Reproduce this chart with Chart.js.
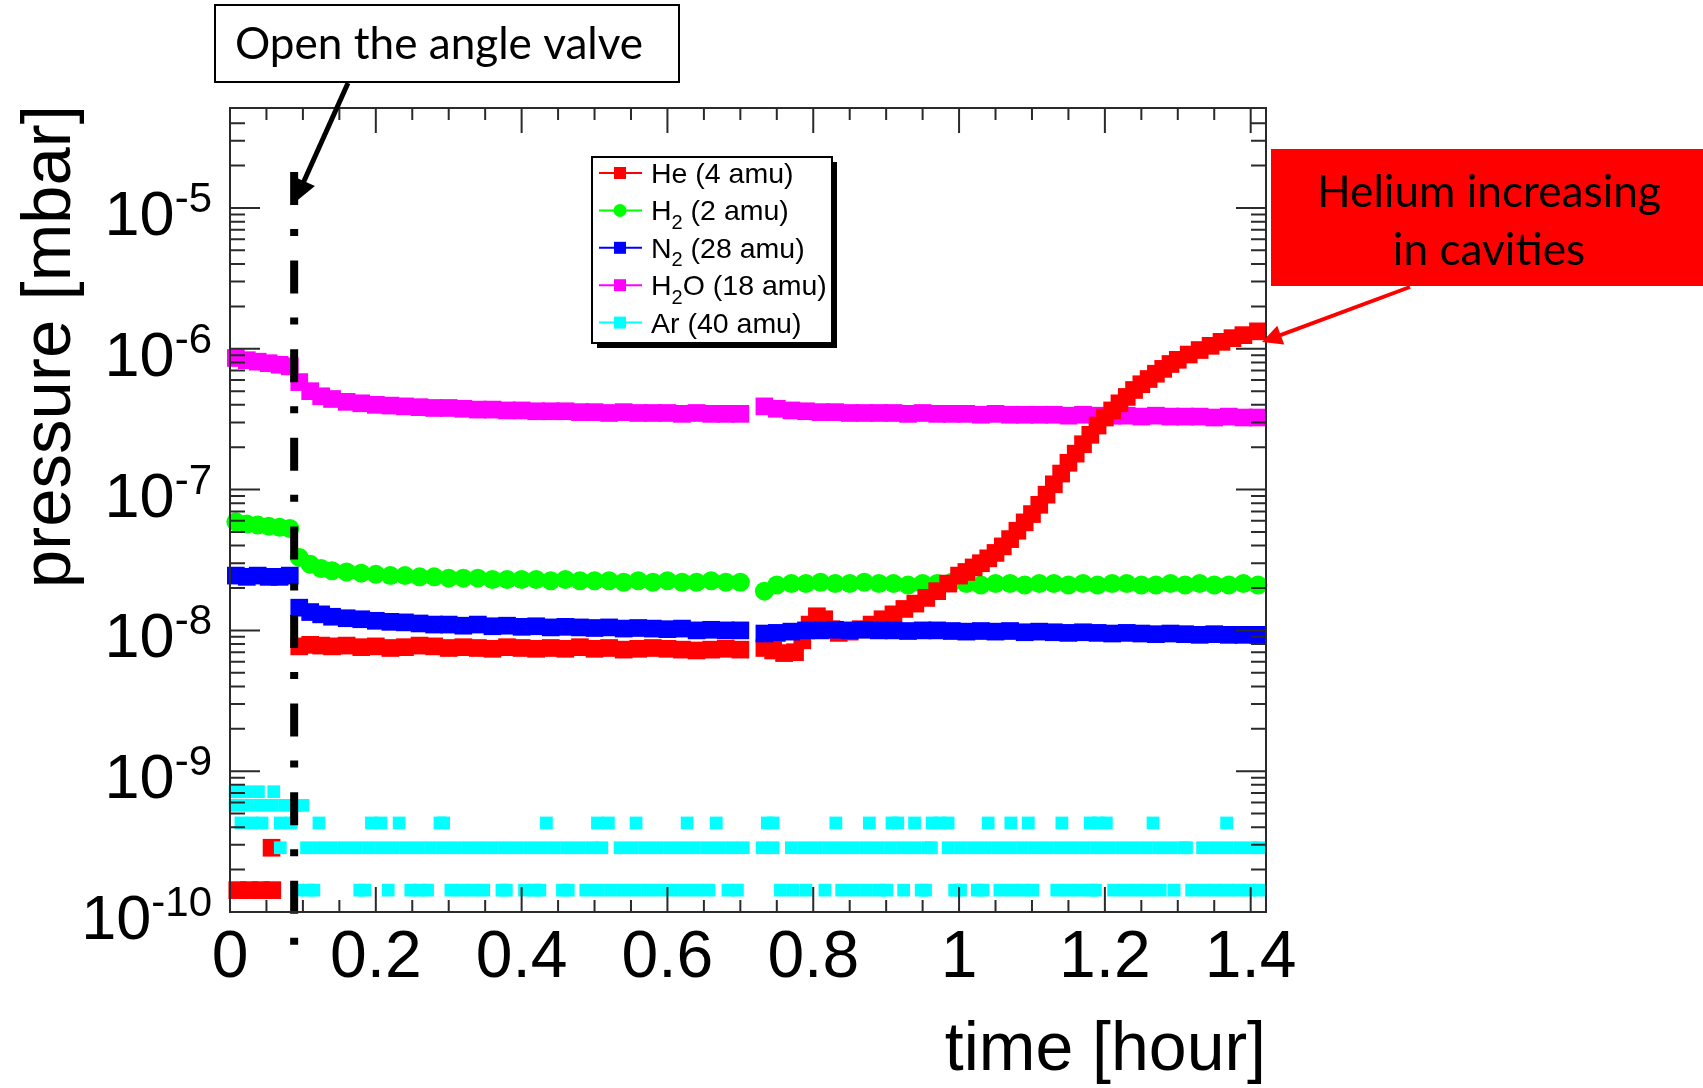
<!DOCTYPE html>
<html lang="en">
<head>
<meta charset="UTF-8">
<title>RGA pressure vs time</title>
<script src="https://cdn.jsdelivr.net/npm/chart.js"></script>
<style>
  body { margin: 0; background: #fff; }
  #wrap { width: 1703px; height: 1088px; }
</style>
</head>
<body>
<div id="wrap"><canvas id="rgaChart" width="1703" height="1088"></canvas></div>
<script>
// time axis in hours, shared by H2O, H2 and N2
const time = [0.008, 0.023, 0.038, 0.053, 0.068, 0.082,
  0.095, 0.11, 0.125,
  0.14, 0.16, 0.18, 0.20, 0.22, 0.24, 0.26, 0.28, 0.30, 0.32, 0.34, 0.36, 0.38, 0.40, 0.42,
  0.44, 0.46, 0.48, 0.50, 0.52, 0.54, 0.56, 0.58, 0.60, 0.62, 0.64, 0.66, 0.68, 0.70,
  0.733, 0.75, 0.77, 0.79, 0.81, 0.83, 0.85, 0.87, 0.89, 0.91, 0.93, 0.95, 0.97, 0.99,
  1.01, 1.03, 1.05, 1.07, 1.09, 1.11, 1.13, 1.15, 1.17, 1.19, 1.21, 1.23, 1.25, 1.27,
  1.29, 1.31, 1.33, 1.35, 1.37, 1.39, 1.41];

// pressures in mbar
const h2oValue = [8.6e-7, 8.3e-7, 8.1e-7, 7.9e-7, 7.7e-7, 7.5e-7,
  5.8e-7, 5.0e-7, 4.6e-7,
  4.4e-7, 4.2e-7, 4.1e-7, 4.0e-7, 3.95e-7, 3.9e-7, 3.85e-7, 3.8e-7, 3.8e-7, 3.75e-7, 3.7e-7,
  3.7e-7, 3.65e-7, 3.65e-7, 3.6e-7, 3.6e-7, 3.6e-7, 3.55e-7, 3.55e-7, 3.5e-7, 3.55e-7,
  3.5e-7, 3.5e-7, 3.5e-7, 3.45e-7, 3.5e-7, 3.45e-7, 3.45e-7, 3.45e-7,
  3.9e-7, 3.75e-7, 3.65e-7, 3.6e-7, 3.55e-7, 3.55e-7, 3.5e-7, 3.5e-7, 3.5e-7, 3.5e-7,
  3.45e-7, 3.5e-7, 3.45e-7, 3.45e-7, 3.45e-7, 3.4e-7, 3.45e-7, 3.4e-7, 3.4e-7, 3.4e-7,
  3.4e-7, 3.35e-7, 3.4e-7, 3.35e-7, 3.35e-7, 3.35e-7, 3.3e-7, 3.35e-7, 3.3e-7, 3.3e-7,
  3.3e-7, 3.25e-7, 3.3e-7, 3.25e-7, 3.25e-7];

const h2Value = [5.9e-8, 5.7e-8, 5.6e-8, 5.5e-8, 5.4e-8, 5.3e-8,
  3.3e-8, 2.95e-8, 2.75e-8,
  2.65e-8, 2.6e-8, 2.55e-8, 2.5e-8, 2.45e-8, 2.45e-8, 2.4e-8, 2.4e-8, 2.35e-8, 2.35e-8,
  2.35e-8, 2.3e-8, 2.3e-8, 2.3e-8, 2.3e-8, 2.25e-8, 2.3e-8, 2.25e-8, 2.25e-8, 2.25e-8,
  2.2e-8, 2.25e-8, 2.2e-8, 2.25e-8, 2.2e-8, 2.2e-8, 2.25e-8, 2.2e-8, 2.2e-8,
  1.9e-8, 2.1e-8, 2.15e-8, 2.15e-8, 2.2e-8, 2.15e-8, 2.15e-8, 2.2e-8, 2.15e-8, 2.15e-8,
  2.1e-8, 2.15e-8, 2.15e-8, 2.2e-8, 2.15e-8, 2.1e-8, 2.15e-8, 2.15e-8, 2.1e-8, 2.15e-8,
  2.15e-8, 2.1e-8, 2.15e-8, 2.1e-8, 2.15e-8, 2.15e-8, 2.1e-8, 2.1e-8, 2.15e-8, 2.1e-8,
  2.15e-8, 2.1e-8, 2.1e-8, 2.15e-8, 2.1e-8];

const n2Value = [2.45e-8, 2.4e-8, 2.45e-8, 2.4e-8, 2.4e-8, 2.45e-8,
  1.45e-8, 1.35e-8, 1.3e-8,
  1.25e-8, 1.22e-8, 1.2e-8, 1.17e-8, 1.15e-8, 1.14e-8, 1.12e-8, 1.1e-8, 1.1e-8, 1.08e-8,
  1.1e-8, 1.07e-8, 1.08e-8, 1.06e-8, 1.07e-8, 1.05e-8, 1.06e-8, 1.05e-8, 1.04e-8, 1.05e-8,
  1.03e-8, 1.04e-8, 1.03e-8, 1.02e-8, 1.03e-8, 1.0e-8, 1.01e-8, 1.0e-8, 1.0e-8,
  9.5e-9, 9.6e-9, 9.8e-9, 1.0e-8, 1.0e-8, 1.01e-8, 1.0e-8, 1.01e-8, 1.0e-8, 1.0e-8,
  9.9e-9, 1.0e-8, 1.0e-8, 9.9e-9, 9.8e-9, 9.9e-9, 9.8e-9, 9.9e-9, 9.7e-9, 9.8e-9,
  9.7e-9, 9.6e-9, 9.7e-9, 9.6e-9, 9.5e-9, 9.6e-9, 9.5e-9, 9.4e-9, 9.5e-9, 9.4e-9,
  9.3e-9, 9.4e-9, 9.3e-9, 9.3e-9, 9.3e-9];

const heTime = [0.01, 0.026, 0.042, 0.058, 0.057,
  0.095, 0.11, 0.125,
  0.14, 0.16, 0.18, 0.20, 0.22, 0.24, 0.26, 0.28, 0.30, 0.32, 0.34, 0.36, 0.38, 0.40, 0.42,
  0.44, 0.46, 0.48, 0.50, 0.52, 0.54, 0.56, 0.58, 0.60, 0.62, 0.64, 0.66, 0.68, 0.70,
  0.733, 0.745, 0.76, 0.775, 0.785, 0.795, 0.805, 0.815, 0.825, 0.835, 0.85, 0.865, 0.88,
  0.895, 0.91, 0.925, 0.94, 0.955, 0.97, 0.985,
  1.00, 1.01, 1.02, 1.03, 1.04, 1.05, 1.06, 1.07, 1.08, 1.09, 1.10, 1.11, 1.12, 1.13, 1.14,
  1.15, 1.16, 1.17, 1.18, 1.19, 1.20, 1.21, 1.22, 1.23, 1.24, 1.25, 1.26, 1.27, 1.28, 1.29,
  1.30, 1.315, 1.33, 1.345, 1.36, 1.375, 1.39, 1.41];

const heValue = [1.43e-10, 1.43e-10, 1.43e-10, 1.43e-10, 2.86e-10,
  7.7e-9, 7.9e-9, 7.8e-9,
  7.7e-9, 7.8e-9, 7.6e-9, 7.7e-9, 7.5e-9, 7.6e-9, 7.8e-9, 7.7e-9, 7.5e-9, 7.6e-9, 7.5e-9,
  7.4e-9, 7.6e-9, 7.5e-9, 7.4e-9, 7.5e-9, 7.4e-9, 7.6e-9, 7.4e-9, 7.5e-9, 7.3e-9, 7.4e-9,
  7.5e-9, 7.4e-9, 7.3e-9, 7.2e-9, 7.3e-9, 7.4e-9, 7.3e-9,
  7.5e-9, 7.2e-9, 6.9e-9, 7.0e-9, 8.5e-9, 1.1e-8, 1.26e-8, 1.2e-8, 1.02e-8, 9.6e-9, 9.8e-9,
  1.02e-8, 1.1e-8, 1.2e-8, 1.3e-8, 1.42e-8, 1.55e-8, 1.7e-8, 1.9e-8, 2.15e-8,
  2.45e-8, 2.6e-8, 2.8e-8, 3.0e-8, 3.25e-8, 3.55e-8, 3.95e-8, 4.45e-8, 5.1e-8, 5.85e-8,
  6.7e-8, 7.8e-8, 9.2e-8, 1.09e-7, 1.3e-7, 1.55e-7, 1.8e-7, 2.1e-7, 2.45e-7, 2.85e-7,
  3.25e-7, 3.65e-7, 4.1e-7, 4.55e-7, 5.1e-7, 5.6e-7, 6.1e-7, 6.65e-7, 7.2e-7, 7.8e-7,
  8.35e-7, 9.1e-7, 9.8e-7, 1.05e-6, 1.12e-6, 1.19e-6, 1.25e-6, 1.33e-6];

// argon sits on the RGA's digitisation steps, so it is kept as times per level
const arLevel = [1.43e-10, 2.86e-10, 4.29e-10, 5.72e-10, 7.15e-10];
const arTimeL1 = [0.092, 0.107, 0.115, 0.178, 0.185, 0.217, 0.248, 0.26, 0.271, 0.303, 0.318,
  0.333, 0.348, 0.373, 0.379, 0.404, 0.418, 0.425, 0.456, 0.464, 0.488, 0.505, 0.522, 0.539,
  0.556, 0.573, 0.590, 0.607, 0.624, 0.641, 0.657, 0.683, 0.696, 0.755, 0.772, 0.790, 0.816,
  0.839, 0.856, 0.873, 0.890, 0.901, 0.924, 0.948, 0.954, 0.994, 1.002, 1.025, 1.033, 1.056,
  1.072, 1.088, 1.101, 1.134, 1.150, 1.166, 1.182, 1.187, 1.212, 1.228, 1.244, 1.260, 1.276,
  1.295, 1.319, 1.335, 1.351, 1.367, 1.383, 1.399, 1.412];
const arTimeL2 = [0.069, 0.105, 0.122, 0.139, 0.156, 0.173, 0.190, 0.207, 0.224, 0.241, 0.258,
  0.275, 0.292, 0.309, 0.326, 0.343, 0.360, 0.377, 0.394, 0.411, 0.428, 0.445, 0.462, 0.479,
  0.496, 0.510, 0.535, 0.552, 0.569, 0.586, 0.603, 0.620, 0.637, 0.654, 0.671, 0.688, 0.704,
  0.730, 0.745, 0.770, 0.787, 0.804, 0.821, 0.838, 0.855, 0.872, 0.889, 0.906, 0.923, 0.940,
  0.957, 0.962, 0.985, 1.002, 1.019, 1.036, 1.053, 1.070, 1.087, 1.104, 1.121, 1.138, 1.155,
  1.172, 1.189, 1.206, 1.223, 1.240, 1.257, 1.274, 1.291, 1.308, 1.312, 1.334, 1.351, 1.368,
  1.385, 1.402, 1.412];
const arTimeL3 = [0.015, 0.03, 0.044, 0.069, 0.084, 0.122, 0.194, 0.207, 0.232, 0.288, 0.293,
  0.434, 0.504, 0.519, 0.557, 0.627, 0.667, 0.737, 0.745, 0.831, 0.877, 0.908, 0.916, 0.939,
  0.963, 0.974, 0.985, 1.040, 1.071, 1.095, 1.141, 1.180, 1.191, 1.202, 1.266, 1.367];
const arTimeL4 = [0.007, 0.024, 0.041, 0.058, 0.075, 0.09, 0.1];
const arTimeL5 = [0.007, 0.022, 0.039, 0.06];

const xTickValues = [0, 0.2, 0.4, 0.6, 0.8, 1.0, 1.2, 1.4];
const xTickLabels = ['0', '0.2', '0.4', '0.6', '0.8', '1', '1.2', '1.4'];
const yDecades = [-10, -9, -8, -7, -6, -5];
const valveTime = 0.088;

const pairs = (ts, vs) => ts.map((t, i) => ({ x: t, y: vs[i] }));
const arData = [arTimeL1, arTimeL2, arTimeL3, arTimeL4, arTimeL5]
  .flatMap((ts, k) => ts.map(t => ({ x: t, y: arLevel[k] })));

function series(label, data, color, style, radius, order) {
  return {
    label: label, data: data, showLine: false, clip: false, order: order,
    pointStyle: style, pointRadius: radius, pointHoverRadius: radius,
    pointBorderWidth: 0, backgroundColor: color, borderColor: color
  };
}

const SANS = '"Liberation Sans", Arial, sans-serif';
const CAL = 'Lato, "Open Sans", sans-serif';

function subText(ctx, text, x, y, size) {
  // draws "₂" as a real subscript
  let cx = x;
  text.split(/(₂)/).forEach(part => {
    if (!part) return;
    if (part === '₂') {
      ctx.font = Math.round(size * 0.7) + 'px ' + SANS;
      ctx.fillText('2', cx, y + size * 0.3);
      cx += ctx.measureText('2').width;
    } else {
      ctx.font = size + 'px ' + SANS;
      ctx.fillText(part, cx, y);
      cx += ctx.measureText(part).width;
    }
  });
}

function arrow(ctx, x1, y1, x2, y2, color, width, head) {
  const a = Math.atan2(y2 - y1, x2 - x1);
  ctx.save();
  ctx.strokeStyle = color; ctx.fillStyle = color; ctx.lineWidth = width;
  ctx.beginPath();
  ctx.moveTo(x1, y1);
  ctx.lineTo(x2 - Math.cos(a) * head * 0.8, y2 - Math.sin(a) * head * 0.8);
  ctx.stroke();
  ctx.beginPath();
  ctx.moveTo(x2, y2);
  ctx.lineTo(x2 - Math.cos(a) * head + Math.sin(a) * head * 0.5, y2 - Math.sin(a) * head - Math.cos(a) * head * 0.5);
  ctx.lineTo(x2 - Math.cos(a) * head - Math.sin(a) * head * 0.5, y2 - Math.sin(a) * head + Math.cos(a) * head * 0.5);
  ctx.closePath();
  ctx.fill();
  ctx.restore();
}

function fitFont(ctx, text, family, width) {
  ctx.font = '100px ' + family;
  return 100 * width / ctx.measureText(text).width;
}

const rootStyle = {
  id: 'rootStyle',
  afterDatasetsDraw(chart) {
    const ctx = chart.ctx;
    const xs = chart.scales.x, ys = chart.scales.y;
    const a = chart.chartArea;
    ctx.save();

    // valve opening: dash-dot marker
    const vx = xs.getPixelForValue(valveTime);
    ctx.strokeStyle = '#000'; ctx.lineWidth = 8; ctx.setLineDash([33, 24, 7, 24.6]);
    ctx.beginPath(); ctx.moveTo(vx, 172); ctx.lineTo(vx, 946); ctx.stroke();
    ctx.setLineDash([]);

    // frame and ticks on all four sides
    ctx.strokeStyle = '#2a2a2a'; ctx.lineWidth = 2;
    ctx.strokeRect(a.left, a.top, a.right - a.left, a.bottom - a.top);
    ctx.beginPath();
    for (let i = 0; i * 0.05 <= xs.max + 1e-9; i++) {
      const px = xs.getPixelForValue(i * 0.05);
      const len = i % 4 === 0 ? 25 : 12;
      ctx.moveTo(px, a.bottom); ctx.lineTo(px, a.bottom - len);
      ctx.moveTo(px, a.top); ctx.lineTo(px, a.top + len);
    }
    for (let e = -10; e <= -5; e++) {
      for (let m = 1; m <= 9; m++) {
        const v = m * Math.pow(10, e);
        if (v > ys.max * 0.97) break;
        const py = ys.getPixelForValue(v);
        const len = m === 1 ? 30 : 15;
        ctx.moveTo(a.left, py); ctx.lineTo(a.left + len, py);
        ctx.moveTo(a.right, py); ctx.lineTo(a.right - len, py);
      }
    }
    ctx.stroke();

    // tick labels
    ctx.fillStyle = '#000';
    ctx.font = '66px ' + SANS; ctx.textAlign = 'center'; ctx.textBaseline = 'alphabetic';
    xTickValues.forEach((v, i) => ctx.fillText(xTickLabels[i], xs.getPixelForValue(v), 977));
    ctx.textAlign = 'right';
    yDecades.forEach(e => {
      const py = ys.getPixelForValue(Math.pow(10, e));
      const exp = String(e);
      ctx.font = '42px ' + SANS;
      const ew = ctx.measureText(exp).width;
      ctx.fillText(exp, 212, py + 4);
      ctx.font = '63px ' + SANS;
      ctx.fillText('10', 212 - ew, py + 27);
    });

    // axis titles
    ctx.font = '68px ' + SANS; ctx.textAlign = 'right';
    ctx.fillText('time [hour]', a.right, 1070);
    ctx.save();
    ctx.translate(70, a.top - 3); ctx.rotate(-Math.PI / 2);
    ctx.font = '69px ' + SANS; ctx.textAlign = 'right';
    ctx.fillText('pressure [mbar]', 0, 0);
    ctx.restore();

    // legend box with shadow
    const lx = 592, ly = 157, lw = 240, lh = 186;
    ctx.fillStyle = '#000'; ctx.fillRect(lx + 5, ly + 5, lw, lh);
    ctx.fillStyle = '#fff'; ctx.fillRect(lx, ly, lw, lh);
    ctx.strokeStyle = '#000'; ctx.lineWidth = 2; ctx.strokeRect(lx, ly, lw, lh);
    ctx.textAlign = 'left';
    chart.data.datasets.forEach((ds, i) => {
      const ry = 173 + i * 37.4;
      ctx.strokeStyle = ds.borderColor; ctx.lineWidth = 2;
      ctx.beginPath(); ctx.moveTo(599, ry); ctx.lineTo(642, ry); ctx.stroke();
      ctx.fillStyle = ds.backgroundColor;
      if (ds.pointStyle === 'circle') {
        ctx.beginPath(); ctx.arc(620, ry, 6.5, 0, Math.PI * 2); ctx.fill();
      } else {
        ctx.fillRect(614, ry - 6, 12, 12);
      }
      ctx.fillStyle = '#000';
      subText(ctx, ds.label, 651, ry + 10, 28.5);
    });

    // annotation: valve
    ctx.fillStyle = '#fff'; ctx.fillRect(215, 5, 464, 77);
    ctx.strokeStyle = '#000'; ctx.lineWidth = 2; ctx.strokeRect(215, 5, 464, 77);
    ctx.fillStyle = '#000'; ctx.textAlign = 'left';
    const s1 = fitFont(ctx, 'Open the angle valve', CAL, 408);
    ctx.font = s1.toFixed(1) + 'px ' + CAL;
    ctx.fillText('Open the angle valve', 235, 59);
    arrow(ctx, 348, 83, vx, 203, '#000', 5, 24);

    // annotation: helium
    ctx.fillStyle = '#ff0000'; ctx.fillRect(1271, 149, 432, 137);
    ctx.fillStyle = '#000'; ctx.textAlign = 'center';
    const s2 = fitFont(ctx, 'Helium increasing', CAL, 344);
    ctx.font = s2.toFixed(1) + 'px ' + CAL;
    ctx.fillText('Helium increasing', 1489, 207);
    ctx.fillText('in cavities', 1489, 265);
    arrow(ctx, 1410, 287, 1262, 342, '#ff0000', 4, 20);

    ctx.restore();
  }
};

new Chart(document.getElementById('rgaChart').getContext('2d'), {
  type: 'scatter',
  data: {
    datasets: [
      series('He (4 amu)', pairs(heTime, heValue), '#ff0000', 'rect', 12.5, 3),
      series('H₂ (2 amu)', pairs(time, h2Value), '#00ff00', 'circle', 9.5, 4),
      series('N₂ (28 amu)', pairs(time, n2Value), '#0000ff', 'rect', 12.5, 2),
      series('H₂O (18 amu)', pairs(time, h2oValue), '#ff00ff', 'rect', 12.5, 5),
      series('Ar (40 amu)', arData, '#00ffff', 'rect', 9, 1)
    ]
  },
  options: {
    responsive: false,
    animation: false,
    events: [],
    layout: { padding: { left: 230, top: 108, right: 437, bottom: 176 } },
    plugins: { legend: { display: false }, tooltip: { enabled: false } },
    scales: {
      x: { type: 'linear', min: 0, max: 1.421, display: false },
      y: { type: 'logarithmic', min: 1e-10, max: 5.13e-5, display: false }
    }
  },
  plugins: [rootStyle]
});
</script>
</body>
</html>
